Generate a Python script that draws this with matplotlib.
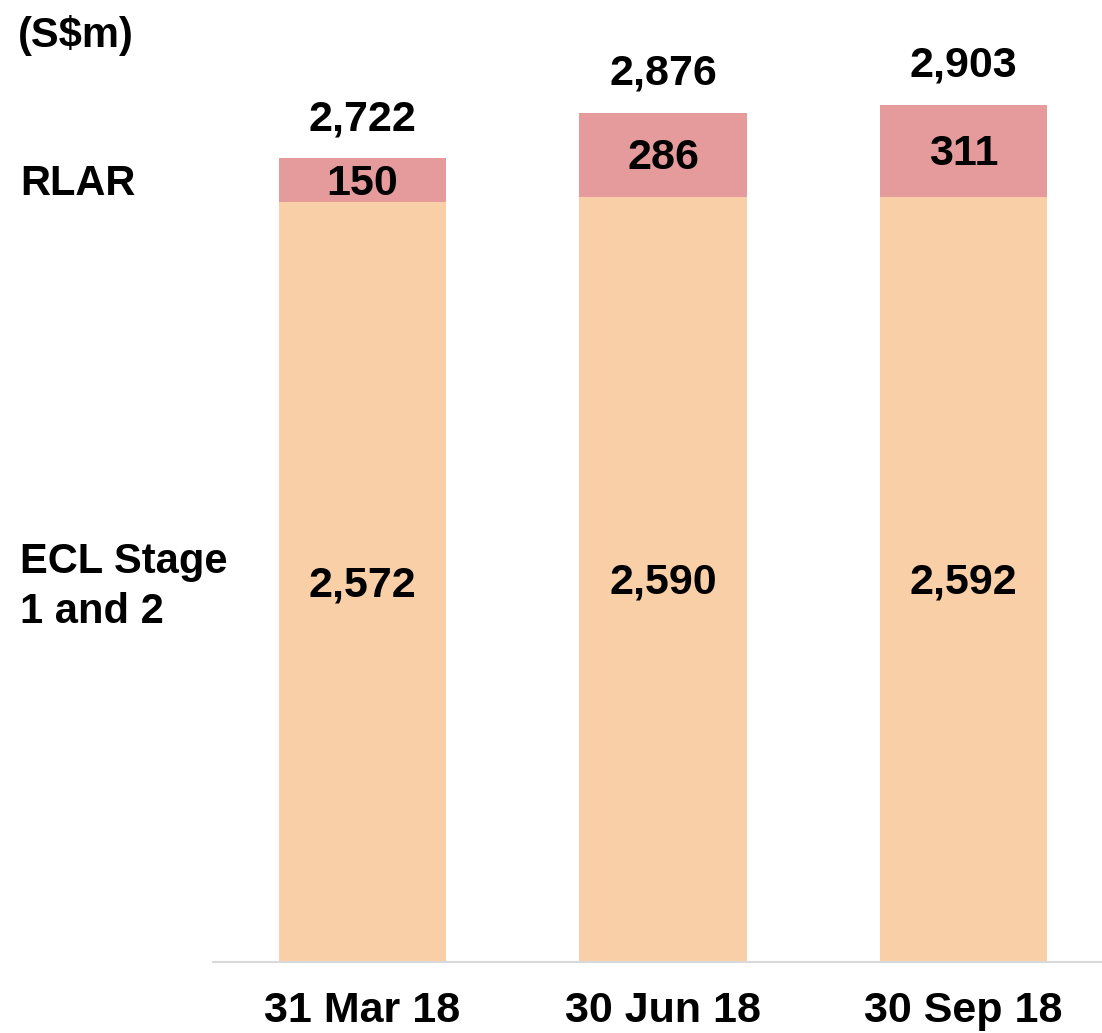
import numpy as np
import matplotlib.pyplot as plt

plt.rcParams['font.family'] = ['Liberation Sans', 'DejaVu Sans']
plt.rcParams['font.weight'] = 'bold'

# data
dates = ['31 Mar 18', '30 Jun 18', '30 Sep 18']
ecl_stage = [2572, 2590, 2592]
rlar = [150, 286, 311]
totals = [2722, 2876, 2903]

ecl_color = '#F9CFA8'
rlar_color = '#E59A9C'

fig = plt.figure(figsize=(11.02, 10.33), dpi=100)
ax = fig.add_axes([213 / 1102, 71 / 1033, 889 / 1102, 945 / 1033])

x = np.arange(len(dates))
w = 0.556
ax.bar(x, ecl_stage, width=w, color=ecl_color)
ax.bar(x, rlar, width=w, bottom=ecl_stage, color=rlar_color)

for i in range(len(dates)):
    ax.annotate(f'{ecl_stage[i]:,}', (x[i], ecl_stage[i] / 2), xytext=(0, -2),
                textcoords='offset points', ha='center', va='center',
                fontsize=31, fontweight='bold')
    ax.annotate(f'{rlar[i]:,}', (x[i], ecl_stage[i] + rlar[i] / 2), xytext=(0, -2.5),
                textcoords='offset points', ha='center', va='center',
                fontsize=31, fontweight='bold')
    ax.annotate(f'{totals[i]:,}', (x[i], totals[i]), xytext=(0, 28),
                textcoords='offset points', ha='center', va='center',
                fontsize=31, fontweight='bold')

ax.set_xlim(-0.4975, 2.461)
ax.set_ylim(0, 3200)
ax.set_xticks(x)
ax.set_xticklabels(dates, fontsize=31, fontweight='bold')
ax.tick_params(axis='x', length=0, pad=21)
ax.set_yticks([])
for s in ['top', 'right', 'left']:
    ax.spines[s].set_visible(False)
ax.spines['bottom'].set_color('#D9D9D9')
ax.spines['bottom'].set_linewidth(1.5)

# row labels on the left
fig.text(18 / 1102, 1 - 35 / 1033, '(S$m)', ha='left', va='center', fontsize=30, fontweight='bold')
fig.text(20 / 1102, 1 - 184 / 1033, 'RLAR', ha='left', va='center', fontsize=30, fontweight='bold')
fig.text(20 / 1102, 1 - 587 / 1033, 'ECL Stage\n1 and 2', ha='left', va='center',
         fontsize=30, fontweight='bold', linespacing=1.33)

fig.savefig('out.png', dpi=100)
